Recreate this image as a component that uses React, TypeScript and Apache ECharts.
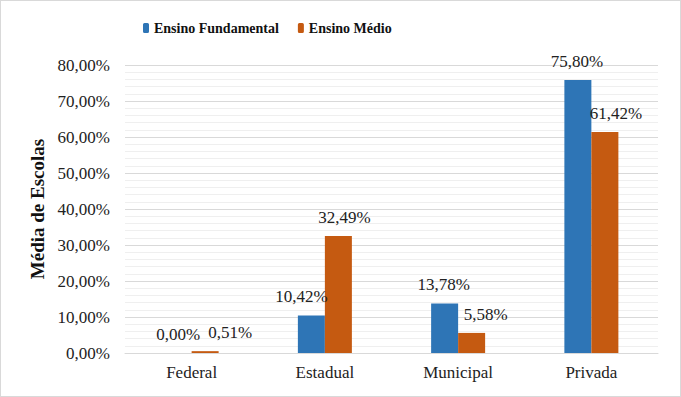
import React, { useEffect, useRef } from "react";
import * as echarts from "echarts";

const categories = ["Federal", "Estadual", "Municipal", "Privada"];
const seriesNames = ["Ensino Fundamental", "Ensino Médio"];
const fundamental = [0.0, 10.42, 13.78, 75.8];
const medio = [0.51, 32.49, 5.58, 61.42];
const yTicks = { min: 0, max: 80, interval: 10 };

// label x-offsets (px) to mimic the reference placement
const fundOffsets = [0, -10, -1, -1];
const medioOffsets = [25, 6, 14, 11];

const fmt = (v: number) => v.toFixed(2).replace(".", ",") + "%";
const FONT = "Liberation Serif";

export default function App() {
  const ref = useRef<HTMLDivElement>(null);
  useEffect(() => {
    document.body.style.margin = "0";
    const chart = echarts.init(ref.current!, undefined, { renderer: "svg" });
    const mk = (vals: number[], offs: number[]) =>
      vals.map((v, i) => ({ value: v, label: { offset: [offs[i], 0] } }));
    chart.setOption({
      animation: false,
      textStyle: { fontFamily: FONT, color: "#222" },
      legend: {
        left: 138,
        top: 16,
        itemWidth: 6,
        itemHeight: 10,
        itemGap: 19,
        textStyle: { fontFamily: FONT, fontSize: 14, fontWeight: "bold", color: "#111" },
        data: seriesNames,
      },
      grid: { left: 125, right: 23, top: 65, bottom: 44 },
      xAxis: {
        type: "category",
        data: categories,
        axisLine: { lineStyle: { color: "#d9d9d9" } },
        axisTick: { show: false },
        axisLabel: { fontFamily: FONT, fontSize: 17, color: "#222", margin: 11 },
      },
      yAxis: {
        type: "value",
        min: yTicks.min,
        max: yTicks.max,
        interval: yTicks.interval,
        name: "Média de Escolas",
        nameLocation: "middle",
        nameGap: 76,
        nameTextStyle: { fontFamily: FONT, fontSize: 19, fontWeight: "bold", color: "#111" },
        axisLine: { show: false },
        axisTick: { show: false },
        axisLabel: { fontFamily: FONT, fontSize: 17, color: "#222", margin: 15, formatter: fmt },
        splitLine: { lineStyle: { color: "#d9d9d9" } },
        minorTick: { show: false, splitNumber: 5 },
        minorSplitLine: { show: true, lineStyle: { color: "#efefef" } },
      },
      series: [
        {
          name: seriesNames[0],
          type: "bar",
          barWidth: 27,
          barGap: "0%",
          itemStyle: { color: "#2E75B6" },
          label: {
            show: true,
            position: "top",
            distance: 10,
            fontFamily: FONT,
            fontSize: 17,
            color: "#222",
            formatter: (p: any) => fmt(p.value),
          },
          data: mk(fundamental, fundOffsets),
        },
        {
          name: seriesNames[1],
          type: "bar",
          barWidth: 27,
          barGap: "0%",
          itemStyle: { color: "#C55A11" },
          label: {
            show: true,
            position: "top",
            distance: 10,
            fontFamily: FONT,
            fontSize: 17,
            color: "#222",
            formatter: (p: any) => fmt(p.value),
          },
          data: mk(medio, medioOffsets),
        },
      ],
    });
    return () => chart.dispose();
  }, []);
  return (
    <div
      style={{
        position: "absolute",
        left: 0,
        top: 0,
        width: 681,
        height: 397,
        boxSizing: "border-box",
        border: "1px solid #d9d9d9",
        background: "#fff",
      }}
    >
      <div ref={ref} style={{ position: "absolute", left: -1, top: -1, width: 681, height: 397 }} />
    </div>
  );
}
